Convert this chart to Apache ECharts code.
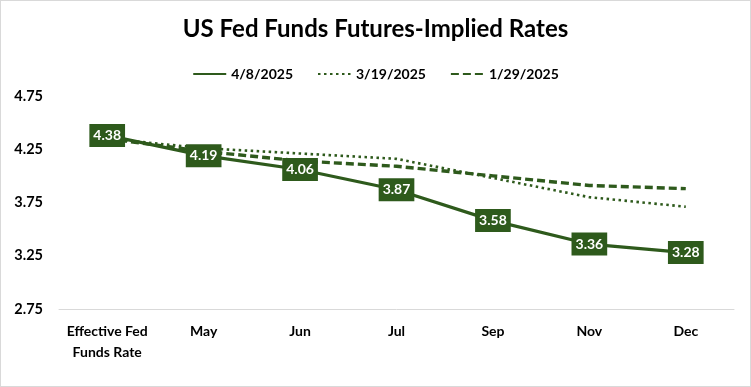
<!DOCTYPE html>
<html><head><meta charset="utf-8">
<script src="https://cdn.jsdelivr.net/npm/echarts@6/dist/echarts.min.js"></script>
<style>html,body{margin:0;padding:0;background:#fff}#c{width:751px;height:387px;box-sizing:border-box;border:1px solid #d9d9d9}</style>
</head><body><div id="c"></div>
<script>
const categories = ['Effective Fed\nFunds Rate','May','Jun','Jul','Sep','Nov','Dec'];
const s_0408 = [4.38,4.19,4.06,3.87,3.58,3.36,3.28];
const s_0319 = [4.35,4.26,4.21,4.16,3.98,3.80,3.71];
const s_0129 = [4.35,4.23,4.14,4.09,4.00,3.91,3.88];
const yTicks = [2.75,3.25,3.75,4.25,4.75];
const green = '#2e5a1c';
const font = 'Lato';
const chart = echarts.init(document.getElementById('c'));
chart.setOption({
  animation:false,
  title:{text:'US Fed Funds Futures-Implied Rates',left:'center',top:11,textStyle:{fontFamily:font,fontWeight:'bold',fontSize:24,color:'#000'}},
  legend:{top:61,left:'center',itemWidth:33,itemHeight:10,itemGap:24,itemStyle:{opacity:0},
    textStyle:{fontFamily:font,fontWeight:'bold',fontSize:14,color:'#000'},
    data:['4/8/2025','3/19/2025','1/29/2025']},
  grid:{left:58,right:16,top:95,bottom:77},
  xAxis:{type:'category',data:categories,boundaryGap:true,
    axisLine:{lineStyle:{color:'#d9d9d9'}},axisTick:{lineStyle:{color:'#d9d9d9'},length:5},
    axisLabel:{fontFamily:font,fontWeight:'bold',fontSize:14,color:'#000',margin:12,lineHeight:21,interval:0}},
  yAxis:{type:'value',min:yTicks[0],max:yTicks[yTicks.length-1],interval:0.5,
    axisLine:{show:false},axisTick:{show:false},splitLine:{show:false},
    axisLabel:{fontFamily:font,fontWeight:'bold',fontSize:14.5,color:'#000',margin:16,formatter:v=>v.toFixed(2)}},
  series:[
    {name:'4/8/2025',type:'line',data:s_0408,z:5,symbol:'rect',symbolSize:4,showSymbol:true,
      itemStyle:{color:green},lineStyle:{color:green,width:3.2},
      label:{show:true,position:'inside',color:'#fff',fontFamily:font,fontWeight:'bold',fontSize:14,
        backgroundColor:green,padding:[5,4,4,4],formatter:p=>p.value.toFixed(2)}},
    {name:'3/19/2025',type:'line',data:s_0319,z:3,showSymbol:false,symbol:'none',
      itemStyle:{color:green},lineStyle:{color:green,width:2.6,type:[2.5,3.5]}},
    {name:'1/29/2025',type:'line',data:s_0129,z:3,showSymbol:false,symbol:'none',
      itemStyle:{color:green},lineStyle:{color:green,width:3.4,type:[8,4]}}
  ]
});
</script></body></html>
